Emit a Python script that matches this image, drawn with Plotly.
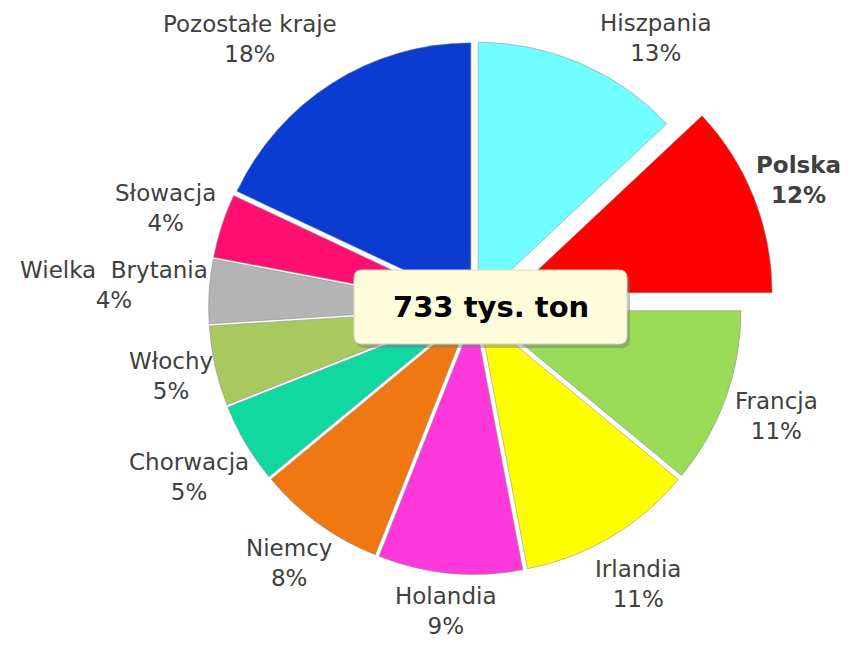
import math
import plotly.graph_objects as go

labels = ["Hiszpania", "Polska", "Francja", "Irlandia", "Holandia", "Niemcy",
          "Chorwacja", "Włochy", "Wielka  Brytania", "Słowacja", "Pozostałe kraje"]
values = [13, 12, 11, 11, 9, 8, 5, 5, 4, 4, 18]
colors = ["#70FFFF", "#FF0000", "#9ADB58", "#FFFF00", "#FF38DC", "#F07812",
          "#10D8A0", "#A8C860", "#B4B4B4", "#FF1070", "#0A3CD2"]
highlight = "Polska"
total_label = "733 tys. ton"

# page has an 8px body margin; figure sized to fit the window
OFF = 8
PW, PH = 859, 655
FW, FH = PW - OFF, PH - OFF
FONT = "Verdana, DejaVu Sans, sans-serif"
FS = 23
dom_x = [0.1488, 0.9488]
dom_y = [0.0726, 1.0]
pulls = [0.16 if l == highlight else 0.03 for l in labels]

fig = go.Figure(go.Pie(
    labels=labels, values=values, sort=False, direction="clockwise", rotation=0,
    marker=dict(colors=colors, line=dict(width=1, color="rgba(140,140,140,0.55)")),
    pull=pulls, textinfo="none",
    hoverinfo="label+percent", showlegend=False,
    domain=dict(x=dom_x, y=dom_y),
))

# page pixel -> paper coords
def px(x): return (x - OFF) / FW
def py(y): return 1 - (y - OFF) / FH

# pie geometry as plotly lays it out (page pixels)
box_w = FW * (dom_x[1] - dom_x[0])
box_h = FH * (dom_y[1] - dom_y[0])
cx = OFF + FW * (dom_x[0] + dom_x[1]) / 2
cy = OFF + FH * (1 - dom_y[0]) - box_h / 2
R = min(box_w, box_h) / 2 / (1 + max(pulls))


def label_center(theta, rp, a, b, gap=4):
    dx, dy = math.sin(theta), -math.cos(theta)
    d = rp + gap + abs(dx) * a + abs(dy) * b
    return cx + dx * d, cy + dy * d


# data labels placed outside each slice along its mid-angle,
# slid sideways when they would leave the top of the chart
total = sum(values)
cum = 0
for lab, v, p in zip(labels, values, pulls):
    theta = 2 * math.pi * (cum + v / 2) / total
    cum += v
    a = len(lab.replace("  ", " ")) * 0.52 * FS / 2
    b = 1.3 * FS
    rp = R * (1 + p)
    X, Y = label_center(theta, rp, a, b)
    step = math.radians(0.5) * (1 if math.sin(theta) >= 0 else -1)
    while Y - b < 8:
        theta += step
        X, Y = label_center(theta, rp, a, b)
    X = min(X, PW - a - 2)
    pct = f"{round(100 * v / total)}%"
    txt = f"{lab}<br>{pct}"
    if lab == highlight:
        txt = f"<b>{txt}</b>"
    fig.add_annotation(x=px(X), y=py(Y), xref="paper", yref="paper",
                       xanchor="center", yanchor="middle",
                       text=txt, showarrow=False, align="center",
                       font=dict(family=FONT, size=FS, color="#404040"))

# rounded box for the total
x0, x1, y0, y1, r = 354, 627, 270, 344, 8
def rounded(x0, y0, x1, y1, r):
    return (f"M {px(x0+r)},{py(y0)} L {px(x1-r)},{py(y0)} Q {px(x1)},{py(y0)} {px(x1)},{py(y0+r)} "
            f"L {px(x1)},{py(y1-r)} Q {px(x1)},{py(y1)} {px(x1-r)},{py(y1)} "
            f"L {px(x0+r)},{py(y1)} Q {px(x0)},{py(y1)} {px(x0)},{py(y1-r)} "
            f"L {px(x0)},{py(y0+r)} Q {px(x0)},{py(y0)} {px(x0+r)},{py(y0)} Z")

fig.add_shape(type="path", xref="paper", yref="paper", path=rounded(x0+3, y0+4, x1+3, y1+4, r),
              fillcolor="rgba(120,120,120,0.45)", line=dict(width=0))
fig.add_shape(type="path", xref="paper", yref="paper", path=rounded(x0, y0, x1, y1, r),
              fillcolor="#FDFDDC", line=dict(color="#D8D8C0", width=1))
fig.add_annotation(x=px((x0 + x1) / 2), y=py((y0 + y1) / 2), xref="paper", yref="paper",
                   xanchor="center", yanchor="middle",
                   text=f"<b>{total_label}</b>", showarrow=False,
                   font=dict(family=FONT, size=29, color="#000000"))

fig.update_layout(width=FW, height=FH, margin=dict(l=0, r=0, t=0, b=0),
                  paper_bgcolor="white", plot_bgcolor="white")
fig.write_html("out.html")
